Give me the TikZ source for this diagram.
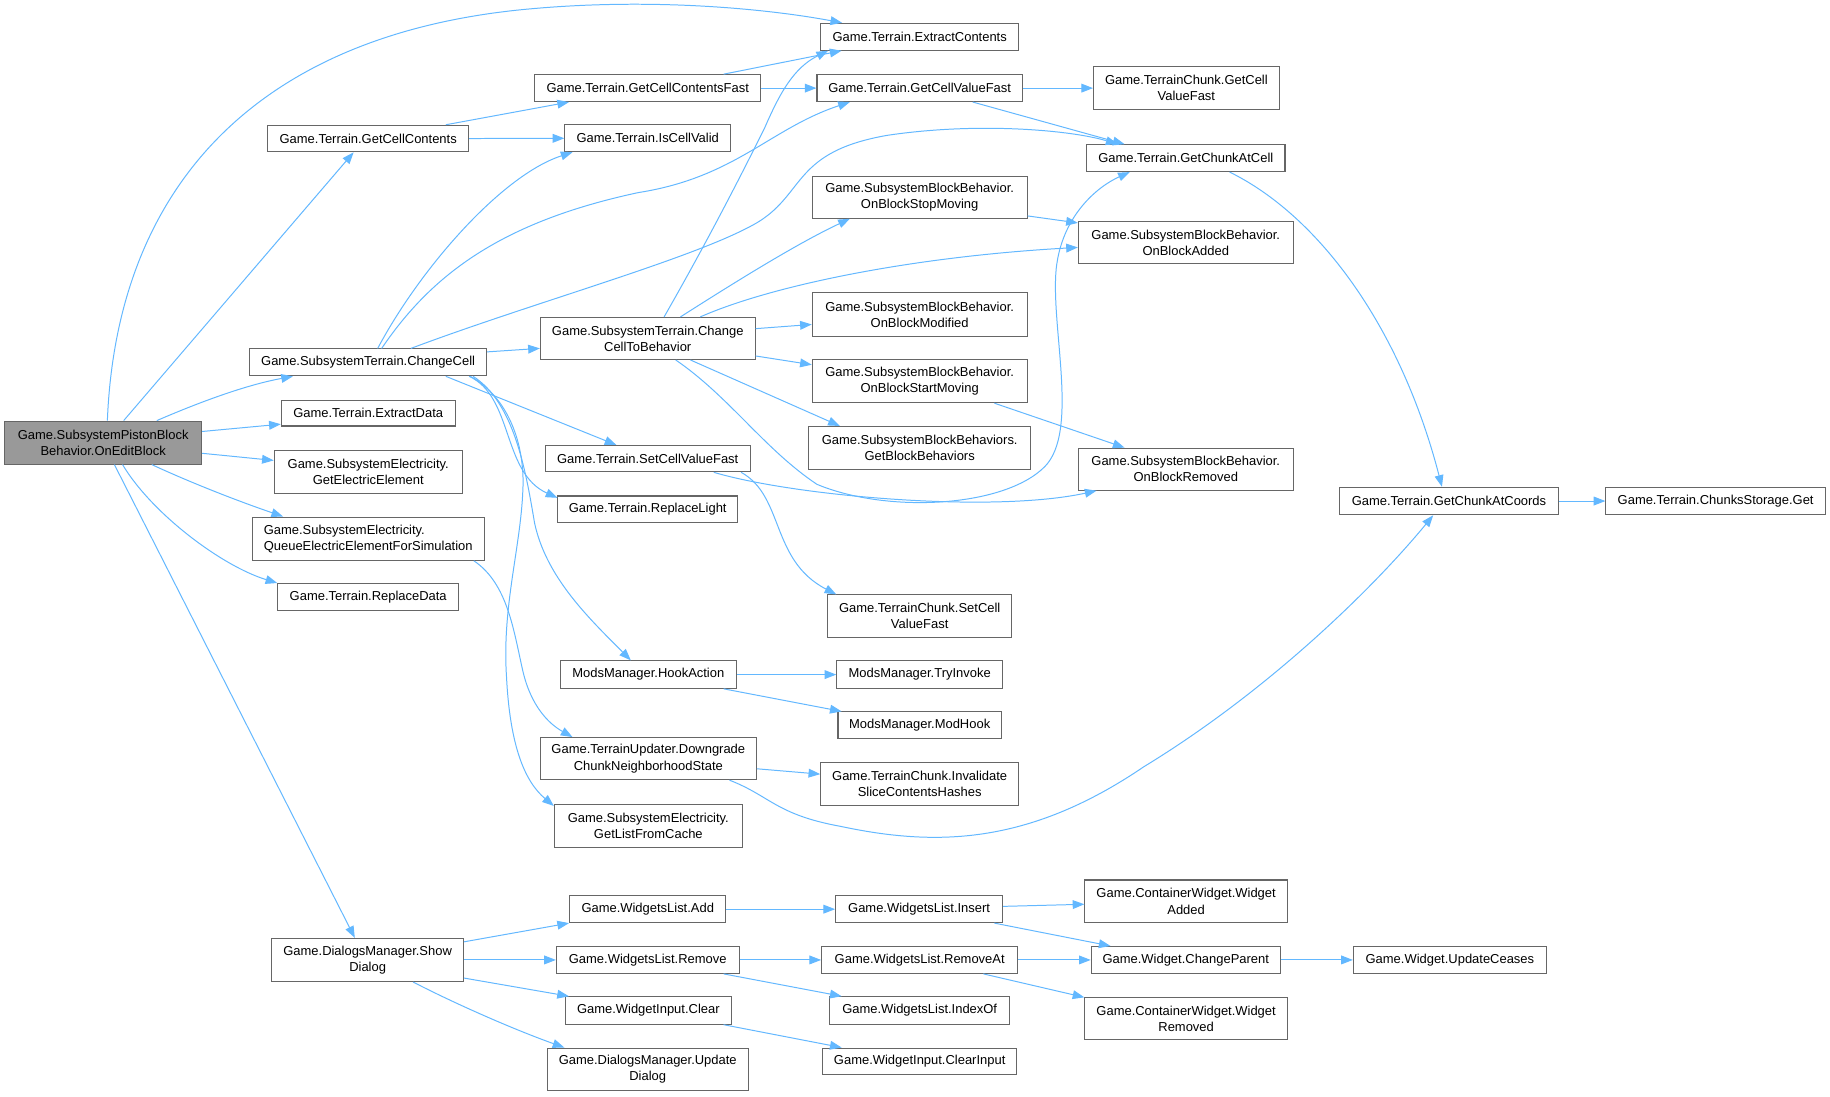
\documentclass[tikz,border=0pt]{standalone}
\usepackage{fontspec}
\setmainfont{Liberation Sans}
\usetikzlibrary{arrows.meta}
\definecolor{edgeblue}{HTML}{63B8FF}
\definecolor{boxborder}{HTML}{666666}
\definecolor{rootfill}{HTML}{999999}
\begin{document}
\begin{tikzpicture}[x=1pt,y=-1pt,
  box/.style={draw=boxborder, line width=0.9pt, fill=white, inner sep=0pt, align=center,
    font=\fontsize{11.1}{13.8}\selectfont},
  root/.style={box, fill=rootfill},
  edge/.style={draw=edgeblue, line width=0.85pt, -{Triangle[length=10pt,width=7.5pt]}}]
\fill[white] (0,0) rectangle (1568,939.1);
\useasboundingbox (0,0) rectangle (1568,939.1);
% column 1
\node[root, minimum width=168.8pt, minimum height=36.8pt] (main) at (88.4,379.2) {Game.SubsystemPistonBlock\\Behavior.OnEditBlock};
% column 2
\node[box, minimum width=172pt, minimum height=22.7pt] (gcc) at (315.5,118.7) {Game.Terrain.GetCellContents};
\node[box, minimum width=203pt, minimum height=23pt] (cc) at (315.4,310.5) {Game.SubsystemTerrain.ChangeCell};
\node[box, minimum width=149pt, minimum height=22pt] (extractData) at (315.5,354) {Game.Terrain.ExtractData};
\node[box, minimum width=161pt, minimum height=37pt] (getElec) at (315.5,404.5) {Game.SubsystemElectricity.\\GetElectricElement};
\node[box, align=left, minimum width=199pt, minimum height=37pt] (queue) at (315.5,461.5) {Game.SubsystemElectricity.\\QueueElectricElementForSimulation};
\node[box, minimum width=155pt, minimum height=23pt] (replaceData) at (315.5,511.5) {Game.Terrain.ReplaceData};
\node[box, minimum width=164pt, minimum height=37pt] (showDialog) at (315,822.5) {Game.DialogsManager.Show\\Dialog};
% column 3
\node[box, minimum width=194pt, minimum height=23pt] (gcf) at (555,75.5) {Game.Terrain.GetCellContentsFast};
\node[box, minimum width=142pt, minimum height=23pt] (isCellValid) at (555,118.5) {Game.Terrain.IsCellValid};
\node[box, minimum width=184pt, minimum height=36pt] (ccb) at (555,290) {Game.SubsystemTerrain.Change\\CellToBehavior};
\node[box, minimum width=176pt, minimum height=22.5pt] (setCVF) at (555,393) {Game.Terrain.SetCellValueFast};
\node[box, minimum width=154pt, minimum height=23pt] (replaceLight) at (555,436.5) {Game.Terrain.ReplaceLight};
\node[box, minimum width=151pt, minimum height=23.5pt] (hookAction) at (555.5,578) {ModsManager.HookAction};
\node[box, minimum width=185pt, minimum height=36pt] (downgrade) at (555.5,650) {Game.TerrainUpdater.Downgrade\\ChunkNeighborhoodState};
\node[box, minimum width=161pt, minimum height=37pt] (getList) at (555.5,707.5) {Game.SubsystemElectricity.\\GetListFromCache};
\node[box, minimum width=134pt, minimum height=23pt] (wlAdd) at (555,779) {Game.WidgetsList.Add};
\node[box, minimum width=156.5pt, minimum height=23pt] (wlRemove) at (555,822.5) {Game.WidgetsList.Remove};
\node[box, minimum width=142pt, minimum height=23.5pt] (wiClear) at (555.5,865.8) {Game.WidgetInput.Clear};
\node[box, minimum width=172pt, minimum height=36.6pt] (updateDialog) at (555,916.3) {Game.DialogsManager.Update\\Dialog};
% column 4
\node[box, minimum width=170pt, minimum height=23pt] (extractContents) at (788,31.5) {Game.Terrain.ExtractContents};
\node[box, minimum width=176pt, minimum height=23pt] (gcv) at (788,75.5) {Game.Terrain.GetCellValueFast};
\node[box, minimum width=184pt, minimum height=36pt] (stopMoving) at (788,169) {Game.SubsystemBlockBehavior.\\OnBlockStopMoving};
\node[box, minimum width=184pt, minimum height=37pt] (modified) at (788,269.5) {Game.SubsystemBlockBehavior.\\OnBlockModified};
\node[box, minimum width=184pt, minimum height=37pt] (startMoving) at (788,326.5) {Game.SubsystemBlockBehavior.\\OnBlockStartMoving};
\node[box, minimum width=190pt, minimum height=36.5pt] (getBB) at (788,383.7) {Game.SubsystemBlockBehaviors.\\GetBlockBehaviors};
\node[box, minimum width=158pt, minimum height=36.5pt] (tcSetCVF) at (788,528) {Game.TerrainChunk.SetCell\\ValueFast};
\node[box, minimum width=142pt, minimum height=23.5pt] (tryInvoke) at (788,578) {ModsManager.TryInvoke};
\node[box, minimum width=140pt, minimum height=23pt] (modHook) at (788,621.5) {ModsManager.ModHook};
\node[box, minimum width=169.5pt, minimum height=36.4pt] (invalidate) at (788,671.8) {Game.TerrainChunk.Invalidate\\SliceContentsHashes};
\node[box, minimum width=143pt, minimum height=23pt] (wlInsert) at (787.5,779) {Game.WidgetsList.Insert};
\node[box, minimum width=168pt, minimum height=23pt] (removeAt) at (788,822.5) {Game.WidgetsList.RemoveAt};
\node[box, minimum width=154pt, minimum height=23.5pt] (indexOf) at (788,865.8) {Game.WidgetsList.IndexOf};
\node[box, minimum width=166pt, minimum height=23pt] (clearInput) at (788,909.5) {Game.WidgetInput.ClearInput};
% column 5
\node[box, minimum width=159pt, minimum height=37pt] (tcGetCVF) at (1016.5,75.5) {Game.TerrainChunk.GetCell\\ValueFast};
\node[box, minimum width=170pt, minimum height=23pt] (getChunkAtCell) at (1016,135.5) {Game.Terrain.GetChunkAtCell};
\node[box, minimum width=184pt, minimum height=36pt] (onBlockAdded) at (1016,208) {Game.SubsystemBlockBehavior.\\OnBlockAdded};
\node[box, minimum width=184pt, minimum height=36pt] (onBlockRemoved) at (1016,402) {Game.SubsystemBlockBehavior.\\OnBlockRemoved};
\node[box, minimum width=173.5pt, minimum height=36.6pt] (widgetAdded) at (1016.3,772.3) {Game.ContainerWidget.Widget\\Added};
\node[box, minimum width=162pt, minimum height=23pt] (changeParent) at (1016,822.5) {Game.Widget.ChangeParent};
\node[box, minimum width=173.5pt, minimum height=36pt] (widgetRemoved) at (1016.3,873) {Game.ContainerWidget.Widget\\Removed};
% column 6/7
\node[box, minimum width=187pt, minimum height=23.5pt] (getChunkAtCoords) at (1241.5,429.3) {Game.Terrain.GetChunkAtCoords};
\node[box, minimum width=188pt, minimum height=23.5pt] (chunksGet) at (1470,429.3) {Game.Terrain.ChunksStorage.Get};
\node[box, minimum width=165.4pt, minimum height=23pt] (updateCeases) at (1242.3,822.5) {Game.Widget.UpdateCeases};
% edges from main
\draw[edge] ([xshift=3.6pt]main.north) .. controls (100,160) and (220,30) .. (450,8) .. controls (560,-2.5) and (660,8) .. ([xshift=19pt]extractContents.north west);
\draw[edge] ([xshift=17.6pt]main.north) -- ([xshift=-12.5pt]gcc.south);
\draw[edge] ([xshift=46pt]main.north) .. controls (170,345) and (210,330) .. ([xshift=-64.4pt]cc.south);
\draw[edge] ([yshift=9.5pt]main.east) -- ([yshift=2pt]extractData.south west);
\draw[edge] ([yshift=-9.2pt]main.east) -- ([yshift=10pt]getElec.west);
\draw[edge] ([xshift=41.6pt]main.south) .. controls (160,412) and (200,428) .. ([xshift=27pt]queue.north west);
\draw[edge] ([xshift=16.6pt]main.south) .. controls (130,440) and (190,485) .. (replaceData.north west);
\draw[edge] ([xshift=9.6pt]main.south) -- ([xshift=-11pt]showDialog.north);
% GetCellContents
\draw[edge] ([xshift=66.5pt]gcc.north) -- ([xshift=30pt]gcf.south west);
\draw[edge] (gcc.east) -- (isCellValid.west);
% ChangeCell
\draw[edge] ([xshift=8.2pt]cc.north) .. controls (360,230) and (430,150) .. ([xshift=7pt]isCellValid.south west);
\draw[edge] ([xshift=11.6pt]cc.north) .. controls (370,235) and (430,190) .. (547,165) .. controls (630,152) and (660,110) .. ([xshift=28.6pt]gcv.south west);
\draw[edge] ([xshift=36.6pt]cc.north) .. controls (460,258) and (600,220) .. (650,190) .. controls (690,165) and (680,130) .. (760,116) .. controls (840,104) and (920,112) .. ([xshift=27pt]getChunkAtCell.north west);
\draw[edge] ([yshift=9pt]cc.east) -- ([yshift=-8.5pt]ccb.west);
\draw[edge] ([xshift=66.6pt]cc.south) -- ([xshift=61.6pt]setCVF.north west);
\draw[edge] ([xshift=86.6pt]cc.south) .. controls (440,340) and (430,405) .. ([yshift=-2pt]replaceLight.north west);
\draw[edge] ([xshift=90pt]cc.south) .. controls (440,345) and (450,400) .. (458,448) .. controls (468,495) and (505,530) .. ([xshift=-15pt]hookAction.north);
\draw[edge] ([xshift=87.6pt]cc.south) .. controls (435,340) and (450,380) .. (448,420) .. controls (446,470) and (430,520) .. (434,580) .. controls (437,640) and (450,670) .. ([yshift=-2pt]getList.north west);
% Queue
\draw[edge] ([xshift=-9.5pt]queue.south east) .. controls (435,500) and (440,540) .. (448,575) .. controls (455,605) and (470,620) .. ([xshift=28pt]downgrade.north west);
% ChangeCellToBehavior
\draw[edge] ([xshift=14pt]ccb.north) .. controls (610,200) and (640,140) .. (655,110) .. controls (668,80) and (680,58) .. ([xshift=7pt]extractContents.south west);
\draw[edge] ([xshift=28pt]ccb.north) .. controls (620,248) and (680,210) .. ([xshift=32.6pt]stopMoving.south west);
\draw[edge] ([xshift=45pt]ccb.north) .. controls (660,245) and (780,220) .. ([yshift=-4pt]onBlockAdded.west);
\draw[edge] ([yshift=8.4pt]ccb.east) -- ([yshift=-8.5pt]modified.west);
\draw[edge] ([yshift=-15pt]ccb.east) -- ([yshift=14pt]startMoving.west);
\draw[edge] ([xshift=36.6pt]ccb.south) -- ([xshift=27pt]getBB.north west);
\draw[edge] ([xshift=24pt]ccb.south) .. controls (625,340) and (655,385) .. (700,415) .. controls (760,440) and (860,435) .. (895,400) .. controls (925,370) and (900,280) .. (905,230) .. controls (910,185) and (940,160) .. ([xshift=-48pt]getChunkAtCell.south);
% GetCellContentsFast / GetCellValueFast
\draw[edge] ([xshift=65pt]gcf.north) -- ([xshift=18.5pt]extractContents.south west);
\draw[edge] (gcf.east) -- (gcv.west);
\draw[edge] (gcv.east) -- (tcGetCVF.west);
\draw[edge] ([xshift=45.5pt]gcv.south) -- ([xshift=33pt]getChunkAtCell.north west);
% block behaviours
\draw[edge] ([yshift=-16pt]stopMoving.east) -- ([yshift=17pt]onBlockAdded.west);
\draw[edge] ([xshift=64pt]startMoving.south) -- ([xshift=40pt]onBlockRemoved.north west);
% SetCellValueFast
\draw[edge] ([xshift=56.6pt]setCVF.south) .. controls (680,425) and (850,440) .. ([xshift=16pt]onBlockRemoved.south west);
\draw[edge] ([xshift=80pt]setCVF.south) .. controls (672,425) and (660,480) .. ([xshift=8pt]tcSetCVF.north west);
% chunks
\draw[edge] ([xshift=37.6pt]getChunkAtCell.south) .. controls (1130,185) and (1200,280) .. ([xshift=-6pt]getChunkAtCoords.north);
\draw[edge] (getChunkAtCoords.east) -- (chunksGet.west);
% Downgrade
\draw[edge] ([yshift=-8.7pt]downgrade.east) -- ([yshift=8.5pt]invalidate.west);
\draw[edge] ([xshift=69.5pt]downgrade.south) .. controls (660,682) and (665,698) .. (720,708) .. controls (800,725) and (880,725) .. (980,657) .. controls (1090,590) and (1180,500) .. ([xshift=-13.5pt]getChunkAtCoords.south);
% HookAction
\draw[edge] (hookAction.east) -- (tryInvoke.west);
\draw[edge] ([xshift=64.5pt]hookAction.south) -- ([xshift=3.6pt]modHook.north west);
% ShowDialog
\draw[edge] ([yshift=15.5pt]showDialog.east) -- (wlAdd.south west);
\draw[edge] (showDialog.east) -- (wlRemove.west);
\draw[edge] ([yshift=-15.5pt]showDialog.east) -- ([xshift=3.4pt]wiClear.north west);
\draw[edge] ([xshift=39pt]showDialog.south) .. controls (390,860) and (440,882) .. ([xshift=15pt]updateDialog.north west);
% widgets
\draw[edge] (wlAdd.east) -- (wlInsert.west);
\draw[edge] ([yshift=2.4pt]wlInsert.east) -- ([yshift=-2.5pt]widgetAdded.west);
\draw[edge] ([xshift=64.5pt]wlInsert.south) -- ([xshift=17pt]changeParent.north west);
\draw[edge] (wlRemove.east) -- (removeAt.west);
\draw[edge] ([xshift=65pt]wlRemove.south) -- ([xshift=10.6pt]indexOf.north west);
\draw[edge] (removeAt.east) -- (changeParent.west);
\draw[edge] ([xshift=54.6pt]removeAt.south) -- (widgetRemoved.north west);
\draw[edge] ([xshift=64.5pt]wiClear.south) -- ([xshift=16.6pt]clearInput.north west);
\draw[edge] (changeParent.east) -- (updateCeases.west);
\end{tikzpicture}
\end{document}
